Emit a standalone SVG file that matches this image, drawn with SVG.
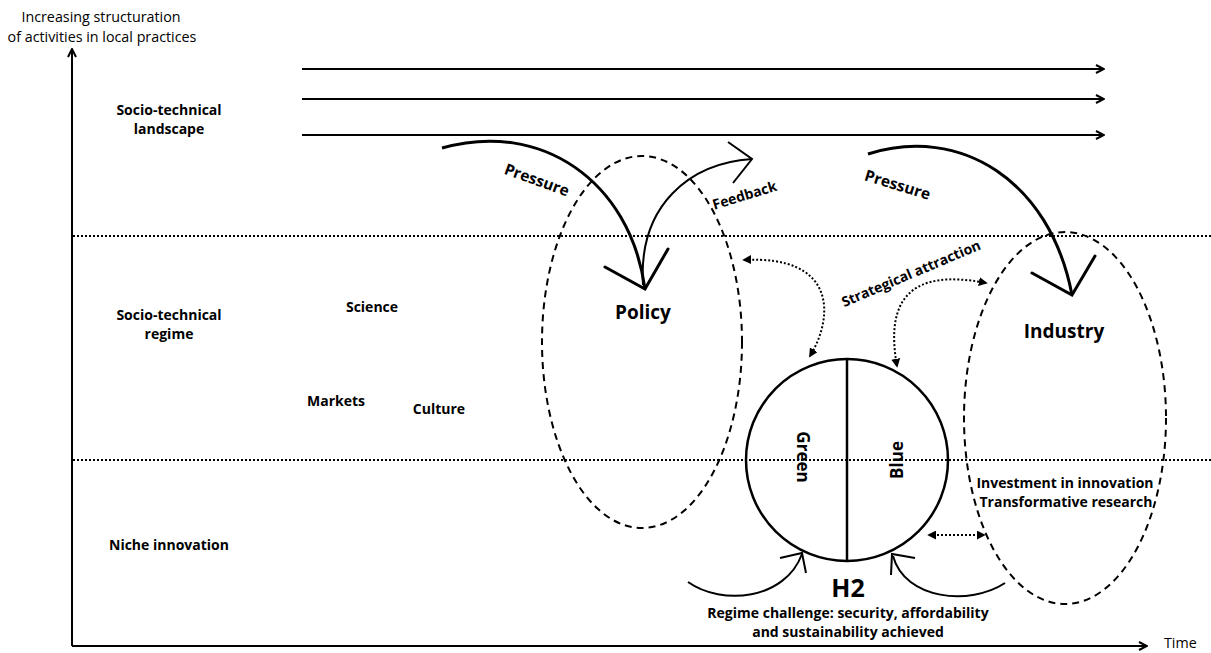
<svg xmlns="http://www.w3.org/2000/svg" width="1211" height="653" viewBox="0 0 1211 653">
<defs>
<marker id="chev" viewBox="0 0 10 10" refX="9" refY="5" markerWidth="10" markerHeight="10" markerUnits="userSpaceOnUse" orient="auto">
<path d="M1,1 L9,5 L1,9" fill="none" stroke="#000" stroke-width="2"/>
</marker>
<marker id="tri" viewBox="0 0 10 10" refX="8" refY="5" markerWidth="9" markerHeight="9" markerUnits="userSpaceOnUse" orient="auto-start-reverse">
<path d="M0,0 L10,5 L0,10 Z" fill="#000"/>
</marker>
</defs>
<style>
text{font-family:"Open Sans","Noto Sans","Liberation Sans",sans-serif;fill:#000}
.b{font-weight:bold;font-size:14px}
.r{font-size:14.3px}
.big{font-weight:bold;font-size:19px}
.pr{font-weight:bold;font-size:15.5px}
.gb{font-weight:bold;font-size:17px}
.axis{stroke:#000;stroke-width:2;fill:none}
.land{stroke:#000;stroke-width:2;fill:none}
.dot{stroke:#000;stroke-width:2;stroke-dasharray:2 2;fill:none}
.dash{stroke:#000;stroke-width:2;stroke-dasharray:7 5;fill:none}
.curve{stroke:#000;stroke-width:2;fill:none}
.thick{stroke:#000;stroke-width:3;fill:none}
.ah{stroke:#000;stroke-width:3;fill:none;stroke-linecap:round}
.ahthin{stroke:#000;stroke-width:2;fill:none}
</style>
<rect width="1211" height="653" fill="#fff"/>

<g id="axes">
<line class="axis" x1="72" y1="646" x2="72" y2="49" marker-end="url(#chev)"/>
<line class="axis" x1="72" y1="646" x2="1147" y2="646" marker-end="url(#chev)"/>
<text class="r" x="101" y="22" text-anchor="middle">Increasing structuration</text>
<text class="r" x="102" y="42" text-anchor="middle">of activities in local practices</text>
<text class="r" x="1164" y="648">Time</text>
</g>

<g id="levels">
<line class="dot" x1="73" y1="236" x2="1211" y2="236"/>
<line class="dot" x1="73" y1="460" x2="1211" y2="460"/>
<text class="b" x="169" y="115" text-anchor="middle">Socio-technical</text>
<text class="b" x="169" y="134" text-anchor="middle">landscape</text>
<text class="b" x="169" y="320" text-anchor="middle">Socio-technical</text>
<text class="b" x="169" y="339" text-anchor="middle">regime</text>
<text class="b" x="169" y="550" text-anchor="middle">Niche innovation</text>
<text class="b" x="372" y="312" text-anchor="middle">Science</text>
<text class="b" x="336" y="406" text-anchor="middle">Markets</text>
<text class="b" x="439" y="414" text-anchor="middle">Culture</text>
</g>

<g id="landscape-arrows">
<line class="land" x1="302" y1="69" x2="1104" y2="69" marker-end="url(#chev)"/>
<line class="land" x1="302" y1="99" x2="1104" y2="99" marker-end="url(#chev)"/>
<line class="land" x1="302" y1="135" x2="1104" y2="135" marker-end="url(#chev)"/>
</g>

<g id="policy">
<ellipse class="dash" cx="642" cy="342" rx="100" ry="186"/>
<text class="big" x="643" y="319" text-anchor="middle">Policy</text>
</g>

<g id="industry">
<ellipse class="dash" cx="1065" cy="418" rx="101" ry="186"/>
<text class="big" x="1064" y="338" text-anchor="middle">Industry</text>
<text class="b" x="1065" y="488" text-anchor="middle">Investment in innovation</text>
<text class="b" x="1066" y="507" text-anchor="middle">Transformative research</text>
</g>

<g id="h2">
<circle cx="847" cy="460" r="101" fill="none" stroke="#000" stroke-width="2.5"/>
<line x1="847" y1="359" x2="847" y2="561" stroke="#000" stroke-width="2.5"/>
<text class="gb" transform="translate(797,457) rotate(90)" text-anchor="middle">Green</text>
<text class="gb" transform="translate(903,460) rotate(-90)" text-anchor="middle">Blue</text>
<text x="848" y="597" text-anchor="middle" style="font-weight:bold;font-size:25px">H2</text>
<text class="b" x="848" y="618" text-anchor="middle">Regime challenge: security, affordability</text>
<text class="b" x="848" y="637" text-anchor="middle">and sustainability achieved</text>
</g>

<g id="connectors">
<path class="thick" d="M442,148 C 540,120 630,180 645,289"/>
<polyline class="ah" points="605,267 645,289 668,249"/>
<path class="curve" d="M643,285 C 638,205 690,163 752,159"/>
<polyline class="ahthin" points="728,142 752,159 733,183"/>
<path class="thick" d="M868,154 C 960,125 1050,180 1072,295"/>
<polyline class="ah" points="1032,273 1072,295 1095,256"/>
<path class="dot" d="M744,260 C 835,255 835,315 810,356" marker-start="url(#tri)" marker-end="url(#tri)"/>
<path class="dot" d="M897,366 C 885,300 910,268 986,283" marker-start="url(#tri)" marker-end="url(#tri)"/>
<line class="dot" x1="929" y1="535" x2="984" y2="535" marker-start="url(#tri)" marker-end="url(#tri)"/>
<path class="curve" d="M688,582 C 722,606 785,600 802,554"/>
<polyline class="ahthin" points="780,558 802,553 806,573"/>
<path class="curve" d="M1005,583 C 970,606 905,600 893,556"/>
<polyline class="ahthin" points="915,558 892,554 891,575"/>
<text class="pr" transform="translate(535,185) rotate(20)" text-anchor="middle">Pressure</text>
<text class="b" transform="translate(746,200) rotate(-17)" text-anchor="middle">Feedback</text>
<text class="pr" transform="translate(896,190) rotate(17)" text-anchor="middle">Pressure</text>
<text class="b" transform="translate(913,278) rotate(-23)" text-anchor="middle">Strategical attraction</text>
</g>
</svg>
